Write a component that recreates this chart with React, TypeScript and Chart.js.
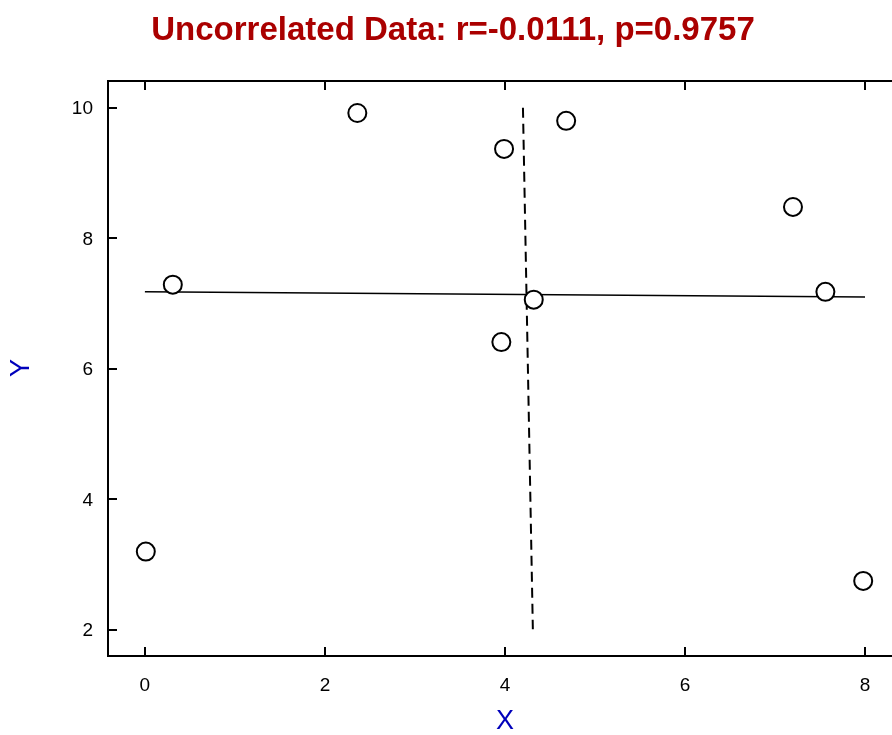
import React, { useEffect, useRef } from "react";
import { Chart, registerables } from "chart.js";

Chart.register(...registerables);

const titleText = "Uncorrelated Data: r=-0.0111, p=0.9757";
const xAxisLabel = "X";
const yAxisLabel = "Y";

const xValues = [0.01, 0.31, 2.36, 3.99, 3.96, 4.32, 4.68, 7.2, 7.56, 7.98];
const yValues = [3.2, 7.29, 9.92, 9.37, 6.41, 7.06, 9.8, 8.48, 7.18, 2.75];

const regX = [0, 8];
const regY = [7.18, 7.1];

const invX = [4.2, 4.31];
const invY = [10.0, 2.01];

const xTicks = [0, 2, 4, 6, 8];
const yTicks = [2, 4, 6, 8, 10];

const X_MIN = -0.41;
const X_MAX = 8.3;
const Y_MIN = 1.6;
const Y_MAX = 10.41;

const framePlugin = {
  id: "framePlugin",
  afterDraw(chart: any) {
    const ctx = chart.ctx;
    const { left, right, top, bottom } = chart.chartArea;
    const xs = chart.scales.x;
    const ys = chart.scales.y;
    ctx.save();
    ctx.strokeStyle = "#000";
    ctx.lineWidth = 2;
    ctx.beginPath();
    ctx.moveTo(right + 2, top);
    ctx.lineTo(left, top);
    ctx.lineTo(left, bottom);
    ctx.lineTo(right + 2, bottom);
    ctx.stroke();

    ctx.lineWidth = 2;
    ctx.beginPath();
    xTicks.forEach((t) => {
      const px = Math.round(xs.getPixelForValue(t));
      ctx.moveTo(px, top);
      ctx.lineTo(px, top + 9);
      ctx.moveTo(px, bottom);
      ctx.lineTo(px, bottom - 9);
    });
    yTicks.forEach((t) => {
      const py = Math.round(ys.getPixelForValue(t));
      ctx.moveTo(left, py);
      ctx.lineTo(left + 9, py);
    });
    ctx.stroke();

    ctx.fillStyle = "#000";
    ctx.font = "19px 'Liberation Sans', Arial, sans-serif";
    ctx.textAlign = "center";
    ctx.textBaseline = "middle";
    xTicks.forEach((t) => {
      ctx.fillText(String(t), xs.getPixelForValue(t), bottom + 30);
    });
    ctx.textAlign = "right";
    yTicks.forEach((t) => {
      ctx.fillText(String(t), left - 15, ys.getPixelForValue(t) + 1);
    });

    ctx.fillStyle = "#aa0000";
    ctx.font = "bold 33px 'Liberation Sans', Arial, sans-serif";
    ctx.textAlign = "center";
    ctx.textBaseline = "middle";
    ctx.fillText(titleText, 453, 31);

    ctx.fillStyle = "#0000bb";
    ctx.font = "27px 'Liberation Sans', Arial, sans-serif";
    ctx.fillText(xAxisLabel, 505, 722);
    ctx.save();
    ctx.translate(22, 368);
    ctx.rotate(-Math.PI / 2);
    ctx.fillText(yAxisLabel, 0, 0);
    ctx.restore();
    ctx.restore();
  },
};

export default function App() {
  const ref = useRef<HTMLCanvasElement | null>(null);
  useEffect(() => {
    if (!ref.current) return;
    const chart = new Chart(ref.current, {
      type: "scatter",
      data: {
        datasets: [
          {
            label: "regression",
            type: "line",
            data: regX.map((x, i) => ({ x, y: regY[i] })),
            borderColor: "#000",
            borderWidth: 1.5,
            pointRadius: 0,
            fill: false,
            order: 3,
          },
          {
            label: "inverse",
            type: "line",
            data: invX.map((x, i) => ({ x, y: invY[i] })),
            borderColor: "#000",
            borderWidth: 2,
            borderDash: [10, 6],
            pointRadius: 0,
            fill: false,
            order: 2,
          },
          {
            label: "data",
            data: xValues.map((x, i) => ({ x, y: yValues[i] })),
            pointRadius: 9,
            pointBackgroundColor: "#fff",
            pointBorderColor: "#000",
            pointBorderWidth: 2,
            order: 1,
          },
        ],
      },
      options: {
        animation: false,
        responsive: false,
        maintainAspectRatio: false,
        devicePixelRatio: 1,
        layout: { autoPadding: false, padding: { left: 108, top: 81, right: 0, bottom: 79 } },
        plugins: { legend: { display: false }, tooltip: { enabled: false }, title: { display: false } },
        scales: {
          x: { type: "linear", min: X_MIN, max: X_MAX, display: false },
          y: { type: "linear", min: Y_MIN, max: Y_MAX, display: false },
        },
      },
      plugins: [framePlugin],
    });
    return () => chart.destroy();
  }, []);
  return (
    <div style={{ position: "fixed", left: 0, top: 0, width: 892, height: 735, background: "#fff" }}>
      <canvas ref={ref} width={892} height={735} style={{ width: 892, height: 735, display: "block" }} />
    </div>
  );
}
